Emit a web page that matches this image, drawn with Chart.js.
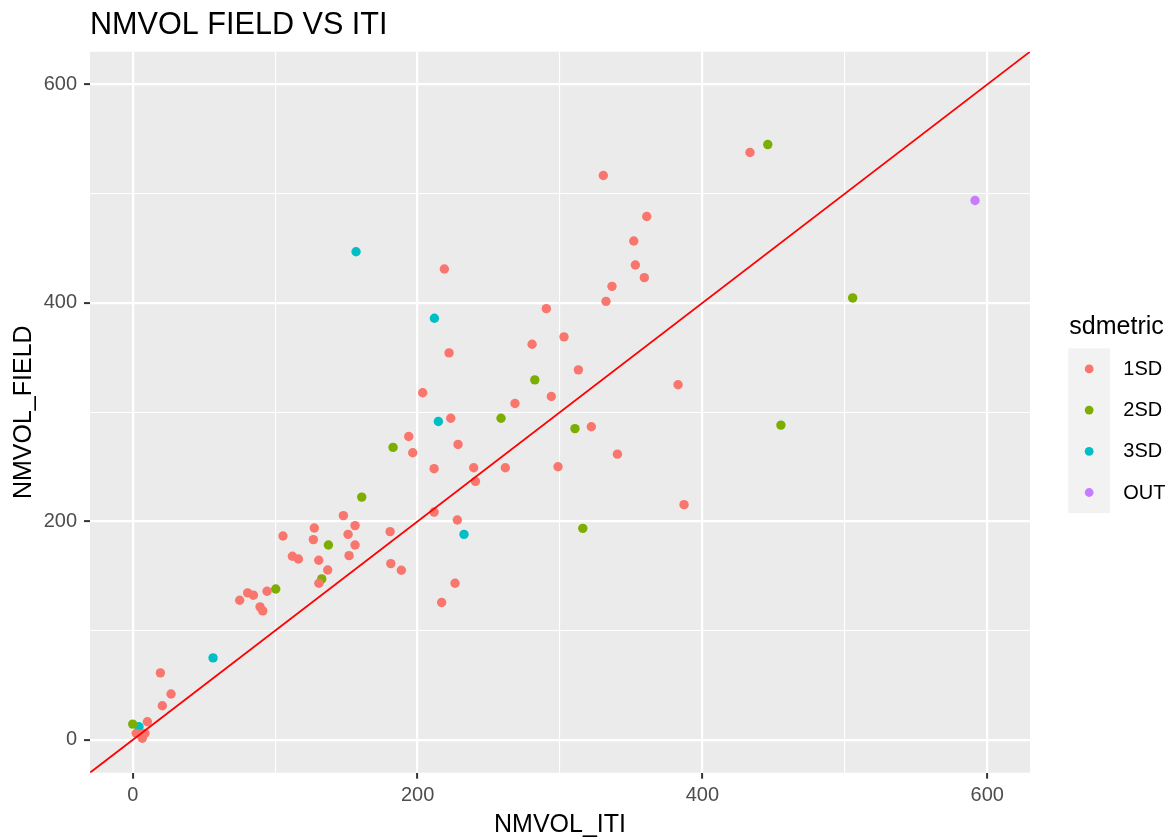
<!DOCTYPE html>
<html>
<head>
<meta charset="utf-8">
<script src="https://cdn.jsdelivr.net/npm/chart.js@4/dist/chart.umd.min.js"></script>
<style>
html,body{margin:0;padding:0;background:#ffffff;}
#wrap{position:relative;width:1171px;height:839px;}
</style>
</head>
<body>
<div id="wrap"><canvas id="c" width="1171" height="839"></canvas></div>
<script>
// ---- data ----
const chartTitle = 'NMVOL FIELD VS ITI';
const xTitle = 'NMVOL_ITI';
const yTitle = 'NMVOL_FIELD';
const legendTitle = 'sdmetric';
const categories = ['1SD', '2SD', '3SD', 'OUT'];
const colors = ['#F8766D', '#7CAE00', '#00BFC4', '#C77CFF'];
const tickValues = [0, 200, 400, 600];
const axisLimits = [-30, 630];
const refLine = [-30, 630]; // y = x reference line

const iti_1SD = [218.8, 290.4, 302.8, 280.4, 222.1, 312.9, 203.6, 293.9, 268.4, 223.3,
  193.8, 196.6, 228.4, 211.6, 239.4, 261.6, 298.6, 240.6, 211.6, 147.9,
  127.5, 156.1, 227.9, 105.5, 126.8, 151.2, 180.7, 156.1, 112.1, 116.3,
  130.6, 151.9, 181.2, 136.9, 188.6, 130.7, 226.3, 216.9, 94.3, 80.7,
  84.7, 75.1, 89.4, 91.3, 19.4, 26.9, 20.8, 10.3, 2.5, 5.8,
  6.7, 8.6, 433.4, 330.4, 360.9, 351.8, 352.9, 359.2, 336.5, 332.3,
  382.9, 322.0, 340.3, 387.1];
const field_1SD = [431.1, 394.8, 369.0, 362.2, 354.3, 338.8, 317.8, 314.4, 308.0, 294.5,
  277.8, 262.9, 270.5, 248.3, 249.2, 249.2, 250.1, 236.7, 208.6, 205.3,
  194.0, 196.2, 201.3, 186.7, 183.4, 188.2, 190.7, 178.4, 168.1, 165.6,
  164.5, 168.7, 161.4, 155.6, 155.3, 143.4, 143.4, 125.8, 136.1, 134.6,
  132.5, 127.9, 121.8, 118.1, 61.4, 42.0, 31.3, 16.6, 6.0, 5.1,
  1.5, 6.0, 537.7, 516.7, 479.2, 456.7, 434.8, 423.2, 415.2, 401.5,
  325.1, 286.7, 261.6, 215.4];

const iti_2SD = [445.9, 505.5, 282.3, 258.6, 310.5, 455.1, 316.0, 182.8, 160.8, 137.4, 132.7, 100.4, 0.0];
const field_2SD = [545.0, 404.6, 329.6, 294.5, 285.0, 288.2, 193.7, 267.8, 222.3, 178.4, 147.4, 138.2, 14.5];

const iti_3SD = [156.8, 211.8, 214.6, 232.6, 56.4, 4.4];
const field_3SD = [446.9, 386.0, 291.5, 188.2, 75.1, 12.1];

const iti_OUT = [591.4];
const field_OUT = [493.8];

// ---- build datasets ----
const FONT = "'Liberation Sans', Arial, Helvetica, sans-serif";
Chart.defaults.font.family = FONT;

function pts(xs, ys) { return xs.map((x, i) => ({x: x, y: ys[i]})); }
const seriesX = [iti_1SD, iti_2SD, iti_3SD, iti_OUT];
const seriesY = [field_1SD, field_2SD, field_3SD, field_OUT];

const datasets = [{
  label: 'y = x',
  data: refLine.map(v => ({x: v, y: v})),
  showLine: true,
  borderColor: '#FF0000',
  borderWidth: 1.8,
  pointRadius: 0,
  fill: false,
  order: 0,
  isRef: true
}];
categories.forEach((c, i) => {
  datasets.push({
    label: c,
    data: pts(seriesX[i], seriesY[i]),
    backgroundColor: colors[i],
    borderWidth: 0,
    pointRadius: 4.7,
    pointHoverRadius: 4.7,
    order: 1
  });
});

const panelPlugin = {
  id: 'panel',
  beforeDraw(chart) {
    const a = chart.chartArea, ctx = chart.ctx;
    ctx.save();
    ctx.fillStyle = '#EBEBEB';
    ctx.fillRect(a.left, a.top, a.right - a.left, a.bottom - a.top);
    ctx.restore();
  }
};

const legendPlugin = {
  id: 'ggLegend',
  afterDraw(chart) {
    const ctx = chart.ctx;
    ctx.save();
    const keyLeft = 1068.3, keyTop = 348.3, keyW = 41.7, keyH = 41.2;
    const items = chart.data.datasets.filter(d => !d.isRef);
    ctx.fillStyle = '#F2F2F2';
    ctx.fillRect(keyLeft, keyTop, keyW, keyH * items.length);
    ctx.fillStyle = '#000000';
    ctx.textBaseline = 'middle';
    ctx.textAlign = 'left';
    ctx.font = '25px ' + FONT;
    ctx.fillText(legendTitle, 1069.3, 327.5);
    ctx.font = '20px ' + FONT;
    items.forEach((d, i) => {
      const cy = keyTop + keyH * (i + 0.5);
      ctx.beginPath();
      ctx.fillStyle = d.backgroundColor;
      ctx.arc(keyLeft + keyW / 2, cy, 4.4, 0, Math.PI * 2);
      ctx.fill();
      ctx.fillStyle = '#000000';
      ctx.fillText(d.label, 1123.3, cy + 0.5);
    });
    ctx.restore();
  }
};

const isMajor = v => tickValues.includes(v);

function axisOpts(isX) {
  return {
    type: 'linear',
    position: isX ? 'bottom' : 'left',
    min: axisLimits[0],
    max: axisLimits[1],
    afterFit(scale) {
      if (isX) scale.height = 66.3; else scale.width = 90;
    },
    ticks: {
      stepSize: 100,
      includeBounds: false,
      autoSkip: false,
      maxRotation: 0,
      minRotation: 0,
      color: '#4D4D4D',
      font: {size: 20, family: FONT},
      padding: isX ? 5 : 7,
      callback: v => isMajor(v) ? String(v) : ''
    },
    grid: {
      color: '#FFFFFF',
      lineWidth: ctx => (ctx.tick && isMajor(ctx.tick.value)) ? 2.2 : 1.1,
      drawTicks: true,
      tickLength: 6,
      tickWidth: 2,
      tickColor: ctx => (ctx.tick && isMajor(ctx.tick.value)) ? '#333333' : 'rgba(0,0,0,0)'
    },
    border: {display: false},
    title: {
      display: true,
      text: isX ? xTitle : yTitle,
      color: '#000000',
      font: {size: 25, family: FONT},
      padding: isX ? {top: 0, bottom: -1} : {top: 9, bottom: 0}
    }
  };
}

new Chart(document.getElementById('c'), {
  type: 'scatter',
  data: {datasets: datasets},
  options: {
    responsive: false,
    animation: false,
    devicePixelRatio: 1,
    layout: {padding: {top: 0, left: 0, right: 141, bottom: 0}},
    plugins: {
      legend: {display: false},
      tooltip: {enabled: false},
      title: {
        display: true,
        text: chartTitle,
        align: 'start',
        fullSize: false,
        color: '#000000',
        font: {size: 30.6, weight: 'normal', family: FONT},
        padding: {top: 7, bottom: 8}
      }
    },
    scales: {x: axisOpts(true), y: axisOpts(false)}
  },
  plugins: [panelPlugin, legendPlugin]
});
</script>
</body>
</html>
